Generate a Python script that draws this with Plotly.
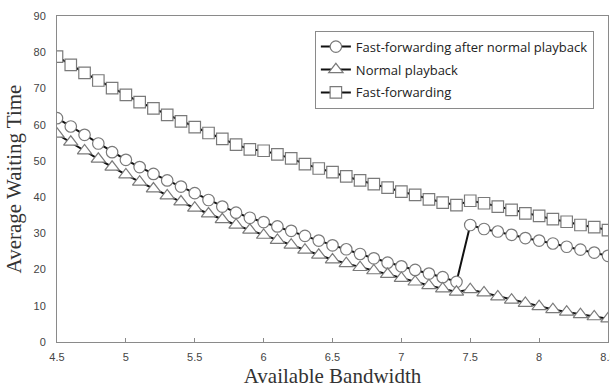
import plotly.graph_objects as go

bandwidth = [round(4.5 + 0.1 * i, 1) for i in range(41)]

ff_after_normal = [61.8, 59.5, 57.2, 54.8, 52.4, 50.3, 48.3, 46.4, 44.6, 42.9,
                   41.1, 39.2, 37.4, 35.7, 34.3, 33.1, 31.9, 30.7, 29.3, 28.0,
                   26.7, 25.6, 24.3, 23.1, 21.9, 20.9, 19.9, 18.9, 17.9, 16.6,
                   32.3, 31.2, 30.5, 29.6, 28.7, 28.0, 27.2, 26.3, 25.5, 24.7, 23.8]

normal_playback = [57.4, 55.2, 52.8, 50.5, 48.3, 46.2, 44.2, 42.3, 40.4, 38.7,
                   37.0, 35.4, 33.8, 32.3, 30.9, 29.5, 28.1, 26.8, 25.4, 24.0,
                   22.7, 21.7, 20.6, 19.7, 18.7, 17.6, 16.6, 15.6, 14.7, 13.8,
                   14.5, 13.6, 12.5, 11.6, 10.7, 9.8, 9.0, 8.3, 7.6, 7.0, 6.4]

fast_forwarding = [78.8, 76.5, 74.3, 72.2, 70.1, 68.2, 66.2, 64.5, 62.7, 60.9,
                   59.3, 57.7, 56.1, 54.5, 53.2, 52.8, 51.8, 50.7, 49.1, 47.9,
                   46.9, 45.7, 44.6, 43.6, 42.6, 41.5, 40.6, 39.4, 38.5, 37.8,
                   39.0, 38.3, 37.4, 36.5, 35.5, 34.8, 33.9, 33.2, 32.3, 31.7, 30.9]

series_names = ["Fast-forwarding after normal playback", "Normal playback", "Fast-forwarding"]
x_ticks = [4.5, 5, 5.5, 6, 6.5, 7, 7.5, 8, 8.5]
y_ticks = [0, 10, 20, 30, 40, 50, 60, 70, 80, 90]

fig = go.Figure()
specs = [
    (ff_after_normal, "circle", 11.5),
    (normal_playback, "triangle-up", 12.5),
    (fast_forwarding, "square", 11.5),
]
for i, (vals, sym, sz) in enumerate(specs):
    fig.add_trace(go.Scatter(
        x=bandwidth, y=vals, name=series_names[i], mode="lines+markers",
        legendgroup=f"g{i}",
        line=dict(color="#111111", width=2),
        marker=dict(symbol=sym, size=sz, color="white",
                    line=dict(color="#7a7a7a", width=1.2)),
    ))

fig.update_layout(
    width=610, height=390,
    margin=dict(l=57, r=2, t=16, b=48, autoexpand=False),
    paper_bgcolor="white", plot_bgcolor="white",
    showlegend=True,
    legend=dict(x=0.468, y=0.955, xanchor="left", yanchor="top",
                bordercolor="#8a8a8a", borderwidth=1, bgcolor="white",
                font=dict(family="Open Sans", size=13, color="#222222"),
                tracegroupgap=3, traceorder="grouped", itemwidth=30),
    font=dict(family="Liberation Sans"),
)
fig.update_xaxes(
    range=[4.5, 8.5], tickvals=x_ticks, ticktext=[str(t) for t in x_ticks],
    ticklabeloverflow="allow", automargin=False,
    showgrid=False, zeroline=False, showline=True, linecolor="#8a8a8a", linewidth=1,
    mirror=True, ticks="inside", ticklen=4, tickcolor="#8a8a8a", ticklabelstandoff=5,
    tickfont=dict(family="Liberation Sans", size=11, color="#444444"),
    title=dict(text="Available Bandwidth", standoff=6,
               font=dict(family="Liberation Serif", size=21, color="#333333")),
)
fig.update_yaxes(
    range=[0, 90], tickvals=y_ticks, automargin=False,
    showgrid=False, zeroline=False, showline=True, linecolor="#8a8a8a", linewidth=1,
    mirror=True, ticks="", ticklabelstandoff=8,
    tickfont=dict(family="Liberation Sans", size=11, color="#444444"),
    title=dict(text="Average Waiting Time", standoff=6,
               font=dict(family="Liberation Serif", size=21, color="#333333")),
)
fig.write_html("out.html")
